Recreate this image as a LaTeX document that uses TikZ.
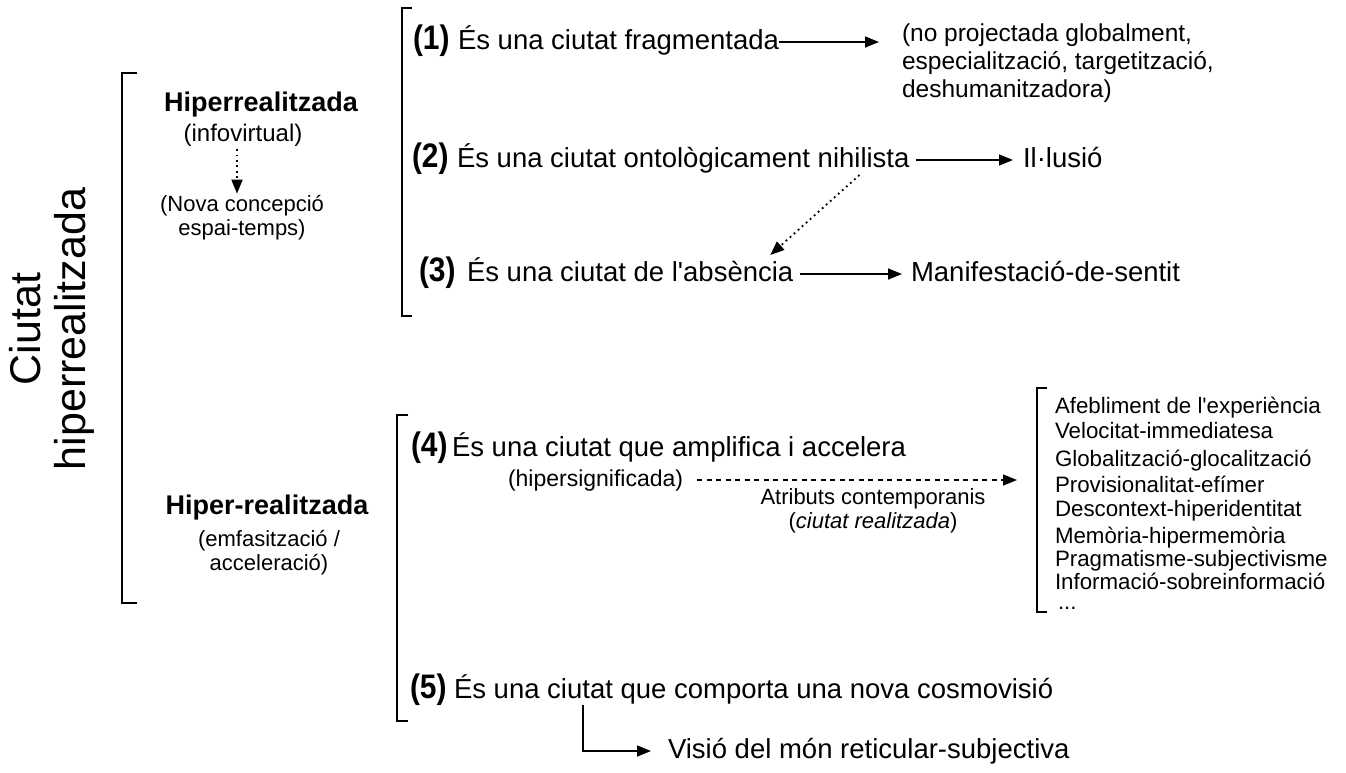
\documentclass[tikz,border=0pt]{standalone}
\usepackage{fontspec}
\setmainfont{Liberation Sans}
\newfontfamily\numfont{Liberation Sans}[FakeStretch=0.88]
\usetikzlibrary{arrows.meta,calc}
\begin{document}
\begin{tikzpicture}[x=1pt,y=-1pt,
  every node/.style={inner sep=0pt,outer sep=0pt},
  mainT/.style={anchor=base west,font=\fontsize{27.5}{30}\selectfont,text height=20pt,text depth=6pt},
  numT/.style={anchor=base west,font=\numfont\bfseries\fontsize{34}{36}\selectfont},
  headT/.style={font=\bfseries\fontsize{27}{30}\selectfont},
  subT/.style={font=\fontsize{24}{27}\selectfont},
  smallT/.style={font=\fontsize{22}{24}\selectfont,align=center},
  listT/.style={anchor=base west,font=\fontsize{22.3}{24}\selectfont},
  npT/.style={anchor=north west,align=left,font=\fontsize{24.5}{28}\selectfont},
  titleT/.style={font=\fontsize{43}{45}\selectfont,align=center,rotate=90},
  brk/.style={line width=2pt},
  arr/.style={line width=1.5pt,-{Triangle[length=14pt,width=11pt]}},
  dotarr/.style={arr,line width=1.8pt,dash pattern=on 1.8pt off 3.6pt},
  dasharr/.style={arr,dash pattern=on 5pt off 4.5pt},
]
\useasboundingbox (0,0) rectangle (1346,772);

% title
\node[titleT] (title) at (52,329) {Ciutat\\hiperrealitzada};

% brackets
\draw[brk] (137,73) -- (122,73) -- (122,603) -- (137,603);
\draw[brk] (412,8) -- (402,8) -- (402,316) -- (412,316);
\draw[brk] (408,415) -- (397,415) -- (397,721) -- (408,721);
\coordinate (rb) at (1037,388);
\draw[brk] (1047,388) -- (rb) -- (1037,612) -- (1047,612);

% left upper
\node[headT] (hr) at (261,105) {Hiperrealitzada};
\node[subT] (info) at (243,135) {(infovirtual)};
\node[smallT] (nova) at (242,218) {(Nova concepció\\espai-temps)};
\draw[dotarr] ($(info.south)+(-6,3)$) -- ($(nova.north)+(-5,-2)$);

% left lower
\node[headT] (hr2) at (267,508) {Hiper-realitzada};
\node[smallT] (emf) at (269,553) {(emfasització /\\acceleració)};

% (1)
\node[numT] (n1) at (413,49) {(1)};
\node[mainT] (t1) at (458,49) {És una ciutat fragmentada};
\node[npT] (np) at (902,24) {(no projectada globalment,\\especialització, targetització,\\deshumanitzadora)};
\draw[arr,shorten >=23pt] (t1.east) -- (t1.east -| np.west);

% (2)
\node[numT] (n2) at (412,167) {(2)};
\node[mainT] (t2) at (457,167) {És una ciutat ontològicament nihilista};
\node[mainT] (il) at (1023,167) {Il·lusió};
\draw[arr,shorten <=6pt,shorten >=10pt] (t2) -- (il);

% (3)
\node[numT] (n3) at (419,281) {(3)};
\node[mainT] (t3) at (467,281) {És una ciutat de l\textquotesingle absència};
\node[mainT] (ms) at (911,281) {Manifestació-de-sentit};
\draw[arr,shorten <=7pt,shorten >=9pt] (t3) -- (ms);
\draw[dotarr] ($(t2.south east)+(-50,2)$) -- ($(t3.north east)+(-23,-6)$);

% (4)
\node[numT] (n4) at (411,456) {(4)};
\node[mainT] (t4) at (452,456) {És una ciutat que amplifica i accelera};
\node[anchor=base west,font=\fontsize{23}{25}\selectfont,text height=17pt,text depth=5pt] (hs) at (508,486) {(hipersignificada)};
\draw[dasharr,shorten <=14pt,shorten >=20pt] (hs) -- (hs -| rb);
\node[smallT] (attr) at (873,511) {Atributs contemporanis\\(\textit{ciutat realitzada})};

% list
\node[listT] (l1) at (1055,413) {Afebliment de l\textquotesingle experiència};
\node[listT] (l2) at (1055,438) {Velocitat-immediatesa};
\node[listT] (l3) at (1055,466) {Globalització-glocalització};
\node[listT] (l4) at (1055,492) {Provisionalitat-efímer};
\node[listT] (l5) at (1055,516) {Descontext-hiperidentitat};
\node[listT] (l6) at (1055,543) {Memòria-hipermemòria};
\node[listT] (l7) at (1055,566) {Pragmatisme-subjectivisme};
\node[listT] (l8) at (1055,589) {Informació-sobreinformació};
\node[listT] (l9) at (1058,609) {...};

% (5)
\node[numT] (n5) at (410,698) {(5)};
\node[mainT] (t5) at (454,698) {És una ciutat que comporta una nova cosmovisió};
\node[mainT] (vis) at (668,758) {Visió del món reticular-subjectiva};
\draw[arr,shorten >=17pt] ($(t5.south west)+(129,1)$) |- (vis);
\end{tikzpicture}
\end{document}
